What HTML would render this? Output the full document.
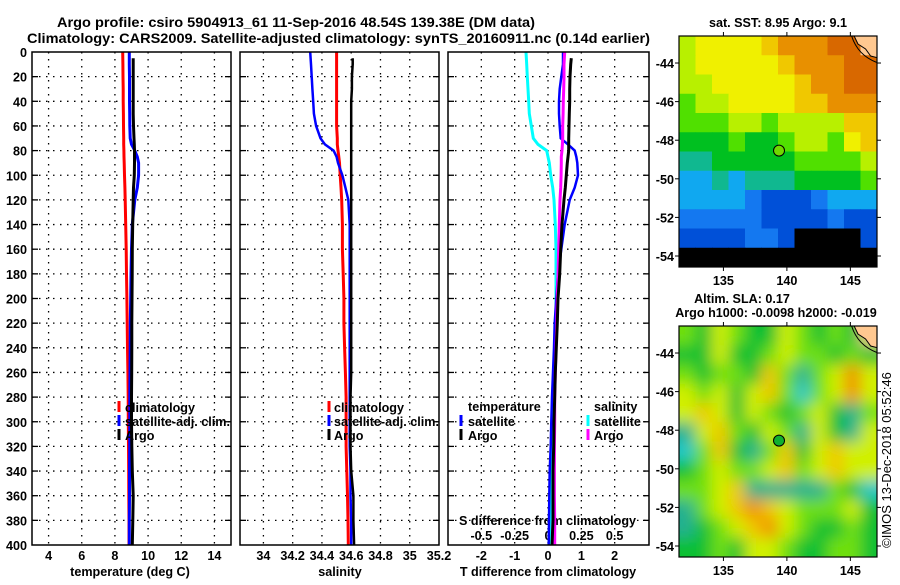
<!DOCTYPE html>
<html><head><meta charset="utf-8"><style>
html,body{margin:0;padding:0;background:#fff}
svg text{font-family:"Liberation Sans",sans-serif;font-weight:bold;font-size:12.6px;fill:#000}
</style></head><body>
<svg id="fig" width="900" height="580" viewBox="0 0 900 580" xmlns="http://www.w3.org/2000/svg">
<defs>
<clipPath id="c1"><rect x="32" y="52" width="199" height="493"/></clipPath>
<clipPath id="c2"><rect x="240" y="52" width="199" height="493"/></clipPath>
<clipPath id="c3"><rect x="448" y="52" width="201" height="493"/></clipPath>
<clipPath id="m1c"><rect x="679" y="36" width="198" height="231"/></clipPath>
<clipPath id="m2c"><rect x="679" y="326" width="198" height="231"/></clipPath>
<filter id="blur2" x="-5%" y="-5%" width="110%" height="110%"><feGaussianBlur stdDeviation="7.5"/></filter>
</defs>
<text x="57" y="27" textLength="478" lengthAdjust="spacingAndGlyphs" style="font-size:14px">Argo profile: csiro 5904913_61 11-Sep-2016 48.54S 139.38E (DM data)</text>
<text x="27" y="43" textLength="623" lengthAdjust="spacingAndGlyphs" style="font-size:14px">Climatology: CARS2009. Satellite-adjusted climatology: synTS_20160911.nc (0.14d earlier)</text>
<g id="root"></g>
</svg>
<script>
const depths=[0,10,20,30,40,50,60,70,75,80,85,90,100,110,120,140,160,180,200,220,240,260,280,300,320,340,360,380,400];
const argoDepths=[5,10,20,30,40,50,60,70,75,80,85,90,100,110,120,140,160,180,200,220,240,260,280,300,320,340,360,380,400];
const tempClim=[8.47,8.48,8.49,8.5,8.5,8.51,8.52,8.53,8.53,8.54,8.55,8.56,8.58,8.6,8.62,8.65,8.68,8.7,8.72,8.74,8.76,8.78,8.8,8.81,8.82,8.83,8.84,8.85,8.85];
const tempSat=[8.87,8.87,8.88,8.88,8.88,8.89,8.9,8.92,9.0,9.2,9.35,9.43,9.43,9.35,9.2,9.05,9.0,8.97,8.95,8.93,8.92,8.91,8.9,8.9,8.89,8.88,8.88,8.87,8.87];
const tempArgo=[9.1,9.1,9.1,9.1,9.1,9.1,9.12,9.15,9.17,9.18,9.18,9.18,9.17,9.12,9.1,9.07,9.05,9.04,9.03,9.02,9.02,9.01,9.0,9.0,9.02,9.05,9.1,9.08,9.05];
const salClim=[34.50,34.50,34.50,34.50,34.50,34.50,34.50,34.505,34.505,34.51,34.515,34.52,34.525,34.53,34.535,34.54,34.54,34.545,34.55,34.55,34.555,34.56,34.565,34.565,34.565,34.57,34.575,34.578,34.58];
const salSat=[34.32,34.325,34.33,34.335,34.34,34.345,34.36,34.39,34.42,34.48,34.5,34.51,34.54,34.56,34.58,34.59,34.59,34.59,34.59,34.59,34.59,34.59,34.59,34.59,34.59,34.595,34.595,34.6,34.6];
const salArgo=[34.61,34.61,34.605,34.605,34.6,34.6,34.6,34.6,34.6,34.6,34.6,34.6,34.6,34.6,34.6,34.6,34.6,34.6,34.6,34.6,34.6,34.6,34.595,34.595,34.595,34.6,34.615,34.615,34.62];
const dTsat=[0.45,0.45,0.4,0.35,0.33,0.33,0.35,0.38,0.6,0.8,0.85,0.88,0.9,0.8,0.65,0.5,0.4,0.3,0.25,0.2,0.18,0.15,0.12,0.1,0.08,0.05,0.04,0.03,0.02];
const dTargo=[0.7,0.68,0.66,0.65,0.65,0.64,0.63,0.62,0.62,0.62,0.6,0.58,0.55,0.52,0.48,0.42,0.38,0.35,0.3,0.28,0.25,0.22,0.2,0.18,0.17,0.15,0.15,0.15,0.12];
const dSsat=[-0.165,-0.16,-0.155,-0.15,-0.145,-0.14,-0.125,-0.11,-0.075,-0.01,0.0,0.01,0.02,0.035,0.045,0.055,0.06,0.06,0.06,0.06,0.055,0.05,0.045,0.04,0.035,0.03,0.02,0.015,0.01];
const dSargo=[0.125,0.12,0.12,0.118,0.115,0.113,0.11,0.11,0.108,0.105,0.1,0.1,0.098,0.095,0.09,0.085,0.08,0.075,0.07,0.065,0.06,0.055,0.05,0.05,0.048,0.048,0.048,0.05,0.05];
const depthTicks=[0,20,40,60,80,100,120,140,160,180,200,220,240,260,280,300,320,340,360,380,400];
const tempTicks=[4,6,8,10,12,14];
const salTicks=[34,34.2,34.4,34.6,34.8,35,35.2];
const salTickLabels=["34","34.2","34.4","34.6","34.8","35","35.2"];
const dTTicks=[-2,-1,0,1,2];
const dSTicks=[-0.5,-0.25,0,0.25,0.5];
const dSTickLabels=["-0.5","-0.25","0","0.25","0.5"];
const lonTicks=[135,140,145];
const latTicks=[-44,-46,-48,-50,-52,-54];
const argoLon=139.38, argoLat=-48.54;
const sstGrid=[
[7,8,8,8,8,9,10,10,10,11,11,12],
[7,8,8,8,8,8,9,10,10,10,11,11],
[7,7,8,8,8,8,8,9,10,10,11,11],
[6,7,7,8,8,8,8,9,9,10,10,10],
[6,6,6,7,7,6,7,7,7,7,9,9],
[5,5,5,6,5,5,6,7,7,6,8,9],
[4,4,5,5,5,5,5,6,6,6,6,7],
[3,3,4,3,4,4,4,5,5,5,5,6],
[3,3,3,3,2,1,1,1,2,3,3,3],
[2,2,2,2,2,1,1,1,1,2,1,1],
[1,1,1,1,2,2,1,-1,-1,-1,-1,1],
[-1,-1,-1,-1,-1,-1,-1,-1,-1,-1,-1,-1]];
const slaGrid=[
[3,2,4,3,2,2,4,3,2,3,2,9],
[2,2,4,2,2,3,4,3,3,2,3,2],
[3,2,3,3,2,5,3,1,3,4,6,4],
[4,3,4,2,4,5,3,0,3,4,6,4],
[4,5,4,2,4,3,2,3,4,2,1,3],
[1,4,5,3,2,4,3,1,4,2,1,4],
[0,3,5,2,1,3,5,2,4,5,4,4],
[2,3,4,3,3,4,5,3,4,5,4,4],
[3,3,4,5,1,1,1,1,1,3,2,0],
[1,3,4,5,6,5,4,3,3,3,4,2],
[1,2,3,4,5,6,4,3,2,2,3,2],
[2,2,3,2,4,4,3,2,2,3,3,2]];
const sstColors={"-1":"#000000","1":"#0050d8","2":"#1478f0","3":"#10a8f0","4":"#10b890","5":"#00c020","6":"#50e000","7":"#b8f000","8":"#f0f000","9":"#f0c800","10":"#e89000","11":"#d86800","12":"#ffc890"};
const slaColors={"0":"#20c8c8","1":"#20b090","2":"#10c030","3":"#70e010","4":"#d0f000","5":"#f0c800","6":"#f09000","9":"#ffc890"};

const NS="http://www.w3.org/2000/svg";
const root=document.getElementById('root');
function mk(tag,attrs,parent){const e=document.createElementNS(NS,tag);for(const k in attrs)e.setAttribute(k,attrs[k]);(parent||root).appendChild(e);return e;}
function txt(s,x,y,anchor,parent){const t=mk('text',{x:x,y:y,'text-anchor':anchor||'start'},parent);t.textContent=s;return t;}
const yD=d=>52+d*(493/400);
const panels=[
 {x0:32,x1:231,min:3,max:15,clip:'c1'},
 {x0:240,x1:439,min:33.84,max:35.2,clip:'c2'},
 {x0:448,x1:649,min:-3,max:3.03,clip:'c3'}];
panels.forEach(p=>{p.sx=v=>p.x0+(v-p.min)*(p.x1-p.x0)/(p.max-p.min);});
const xT=panels[0].sx, xS=panels[1].sx, xD=panels[2].sx, xDS=v=>panels[2].sx(v*4);

function grid(p,ticks,name){
  const g=mk('g',{});
  
  
  ticks.forEach(t=>{const x=p.sx(t);mk('line',{x1:x,x2:x,y1:52,y2:545,stroke:'#000','stroke-width':1.3,'stroke-dasharray':'1.5,5.5'},g);});
  depthTicks.slice(1,-1).forEach(d=>{const y=yD(d);mk('line',{x1:p.x0,x2:p.x1,y1:y,y2:y,stroke:'#000','stroke-width':1.3,'stroke-dasharray':'1.5,5.5'},g);
    mk('line',{x1:p.x0,x2:p.x0+6,y1:y,y2:y,stroke:'#000','stroke-width':1.3},g);mk('line',{x1:p.x1-6,x2:p.x1,y1:y,y2:y,stroke:'#000','stroke-width':1.3},g);});
}
function frame(p,name){const r=mk('rect',{x:p.x0,y:52,width:p.x1-p.x0,height:493,fill:'none',stroke:'#000','stroke-width':1.5});
  }
function line(vals,ds,fx,color,w,clip,name){
  const pts=vals.map((v,i)=>fx(v).toFixed(1)+','+yD(ds[i]).toFixed(1)).join(' ');
  const l=mk('polyline',{points:pts,fill:'none',stroke:color,'stroke-width':w,'clip-path':'url(#'+clip+')'});
  
  
}
grid(panels[0],tempTicks,'temperature');
grid(panels[1],salTicks.slice(0,-1),'salinity');
grid(panels[2],dTTicks,'difference');
depthTicks.forEach(d=>{const t=txt(String(d),27,yD(d)+5,'end');});
tempTicks.forEach(v=>{const t=txt(String(v),xT(v),560,'middle');});
salTicks.forEach((v,i)=>{const t=txt(salTickLabels[i],xS(v),560,'middle');});
dTTicks.forEach(v=>{const t=txt(String(v),xD(v),560,'middle');});
dSTicks.forEach((v,i)=>{const t=txt(dSTickLabels[i],xDS(v),540,'middle');});
let t;
t=txt('temperature (deg C)',130,576,'middle');
t=txt('salinity',340,576,'middle');
t=txt('T difference from climatology',548,576,'middle');
t=txt('S difference from climatology',459,525,'start');

line(tempClim,depths,xT,'#ff0000',3,'c1','temperature-climatology-line');
line(tempSat,depths,xT,'#0000ff',3,'c1','temperature-satellite-line');
line(tempArgo,argoDepths,xT,'#000000',3,'c1','temperature-argo-line');
line(salClim,depths,xS,'#ff0000',3,'c2','salinity-climatology-line');
line(salSat,depths,xS,'#0000ff',2.5,'c2','salinity-satellite-line');
line(salArgo,argoDepths,xS,'#000000',2.5,'c2','salinity-argo-line');
line(dSsat,depths,xDS,'#00ffff',3,'c3','s-diff-satellite-line');
line(dTsat,depths,xD,'#0000ff',2.5,'c3','t-diff-satellite-line');
line(dSargo,depths,xDS,'#ff00ff',3,'c3','s-diff-argo-line');
line(dTargo,argoDepths,xD,'#000000',3,'c3','t-diff-argo-line');
panels.forEach((p,i)=>frame(p,['temperature-panel','salinity-panel','difference-panel'][i]));

function legendEntry(mx,tx,y,color,label,name){
  const g=mk('g',{});
  
  
  mk('line',{x1:mx,x2:mx,y1:y-6,y2:y+5,stroke:color,'stroke-width':3},g);
  txt(label,tx,y+5,'start',g);
}
[[119,125],[329,334]].forEach((c,i)=>{
  const pre=i?'salinity':'temperature';
  legendEntry(c[0],c[1],407,'#ff0000','climatology',pre+'-legend-climatology');
  legendEntry(c[0],c[1],421,'#0000ff','satellite-adj. clim.',pre+'-legend-satellite');
  legendEntry(c[0],c[1],435,'#000000','Argo',pre+'-legend-argo');
});
t=txt('temperature',468,411,'start');
t=txt('salinity',594,411,'start');
legendEntry(461,468,421,'#0000ff','satellite','diff-legend-t-satellite');
legendEntry(461,468,435,'#000000','Argo','diff-legend-t-argo');
legendEntry(588,594,421,'#00ffff','satellite','diff-legend-s-satellite');
legendEntry(588,594,435,'#ff00ff','Argo','diff-legend-s-argo');

function map(y0,gridv,colors,clip,name,blur){
  const x0=679,w=198,h=231;
  const lonMin=131.5,lonMax=147.1,latMax=-42.6,latMin=-54.57;
  const sx=lon=>x0+(lon-lonMin)*w/(lonMax-lonMin);
  const sy=lat=>y0+(latMax-lat)*h/(latMax-latMin);
  const outer=mk('g',{'clip-path':'url(#'+clip+')'});
  
  
  const g=mk('g',blur?{filter:'url(#blur2)'}:{},outer);
  const nr=gridv.length,nc=gridv[0].length;
  const dLon=(lonMax-lonMin)/nc,dLat=(latMax-latMin)/nr;
  if(blur){mk('rect',{x:x0-20,y:y0-20,width:w+40,height:h+40,fill:colors["2"]},g);}
  for(let r=-1;r<=nr;r++)for(let c=-1;c<=nc;c++){
    const rr=Math.min(nr-1,Math.max(0,r)),cc=Math.min(nc-1,Math.max(0,c));
    const lon=lonMin+c*dLon,lat=latMax-r*dLat;
    const cell=mk('rect',{x:sx(lon),y:sy(lat),width:sx(lon+dLon)-sx(lon)+0.5,height:sy(lat-dLat)-sy(lat)+0.5,fill:colors[String(gridv[rr][cc])]},g);
    
    
  }
  const land=mk('path',{d:`M${sx(145.3)},${y0} L${sx(145.6)},${y0+8} L${sx(146.2)},${y0+13} L${sx(146.6)},${y0+20} L${sx(147.2)},${y0+22} L${sx(147.2)},${y0} Z`,fill:'#ffc890',stroke:'#000','stroke-width':1},outer);
  
  
  mk('path',{d:`M${sx(145.1)},${y0} Q${sx(145.6)},${y0+20} ${sx(147.2)},${y0+27}`,fill:'none',stroke:'#000','stroke-width':1},outer);
  const fr=mk('rect',{x:x0,y:y0,width:w,height:h,fill:'none',stroke:'#000','stroke-width':1.2});
  
  latTicks.forEach(l=>{const y=sy(l);mk('line',{x1:x0-4,x2:x0,y1:y,y2:y,stroke:'#000'});mk('line',{x1:x0+w,x2:x0+w+4,y1:y,y2:y,stroke:'#000'});
    const tt=txt(String(l),674,y+5,'end');});
  lonTicks.forEach(l=>{const x=sx(l);mk('line',{x1:x,x2:x,y1:y0-4,y2:y0,stroke:'#000'});mk('line',{x1:x,x2:x,y1:y0+h,y2:y0+h+4,stroke:'#000'});
    const tt=txt(String(l),x,y0+h+18,'middle');});
  const m=mk('circle',{cx:sx(argoLon),cy:sy(argoLat),r:5.5,fill:blur?'#10b030':'#70d800',stroke:'#000','stroke-width':1});
  
  
}
map(36,sstGrid,sstColors,'m1c','sst-map',false);
map(326,slaGrid,slaColors,'m2c','sla-map',true);
t=txt('sat. SST: 8.95 Argo: 9.1',778,27,'middle');
t=txt('Altim. SLA: 0.17',742,303,'middle');
t=txt('Argo h1000: -0.0098 h2000: -0.019',776,317,'middle');
t=txt('©IMOS 13-Dec-2018 05:52:46',0,0,'middle');t.setAttribute('transform','translate(891,460) rotate(-90)');t.setAttribute('style','font-weight:normal;font-size:13px');

</script>
</body></html>
